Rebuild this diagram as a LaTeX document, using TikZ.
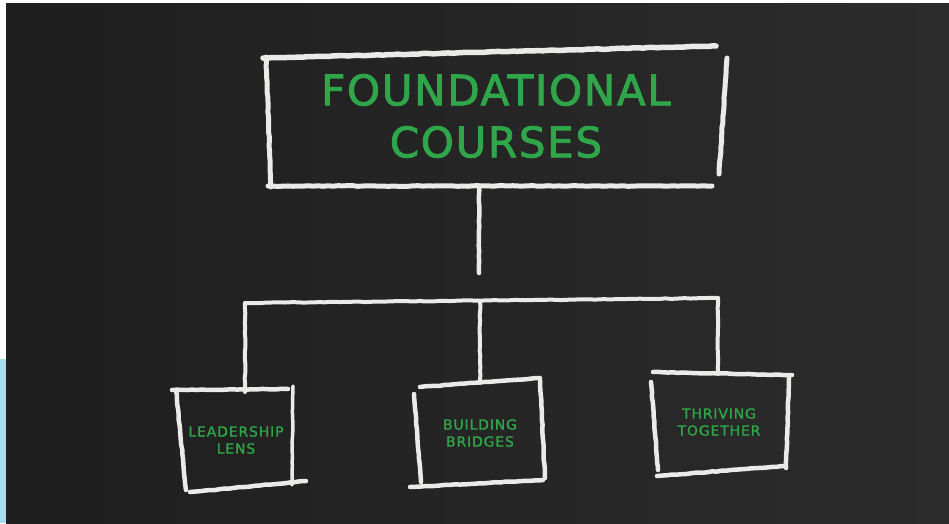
\documentclass[tikz,border=0pt]{standalone}
\usepackage{fontspec}
\usepackage{tikz}
\usetikzlibrary{calc, decorations.pathmorphing}
\newfontfamily\chalkfont[LetterSpace=4, FakeBold=2]{DejaVu Sans}
\newfontfamily\chalksmall[LetterSpace=6, FakeBold=1.2]{DejaVu Sans}
\definecolor{board}{RGB}{30,30,30}
\definecolor{boardlight}{RGB}{44,44,44}
\definecolor{chalk}{RGB}{234,234,230}
\definecolor{chalkgreen}{RGB}{48,166,74}
\definecolor{edgeblue}{RGB}{166,220,238}

\begin{document}
\begin{tikzpicture}[x=1pt, y=-1pt,
    stroke/.style={draw=chalk, line width=4.5pt, line cap=round,
      decorate, decoration={random steps, segment length=5pt, amplitude=0.35pt}},
    boxnode/.style={inner sep=0, outer sep=0, text=chalkgreen, align=center},
    bigtext/.style={font=\chalkfont\fontsize{42}{52}\selectfont},
    smalltext/.style={font=\chalksmall\fontsize{14}{17}\selectfont}]
      \useasboundingbox (0,0) rectangle (949,523);
      \fill [white] (0,0) rectangle (949,523);
      \shade [left color=board, right color=boardlight] (6,3) rectangle (949,523);
      \fill [edgeblue] (0,359) rectangle (6,523);

      % boxes with their texts
      \node [boxnode, bigtext, minimum width=456, minimum height=140] (topbox) at (496,116)
        {FOUNDATIONAL\\COURSES};
      \node [boxnode, smalltext, minimum width=112, minimum height=96] (leadbox) at (236,440)
        {LEADERSHIP\\LENS};
      \node [boxnode, smalltext, minimum width=126, minimum height=100] (buildbox) at (480,433)
        {BUILDING\\BRIDGES};
      \node [boxnode, smalltext, minimum width=136, minimum height=96] (thrivebox) at (719,422)
        {THRIVING\\TOGETHER};

      % chalk outlines
      \draw [stroke, line width=5.5pt] (263,58) -- (716,46);
      \draw [stroke, line width=5pt] (266,57) -- (271,187);
      \draw [stroke, line width=5pt] (727,58) -- (719,174);
      \draw [stroke, line width=5pt] (268,186) -- (712,186);

      \draw [stroke] (172,390) -- (288,389);
      \draw [stroke] (176,390) -- (186,490);
      \draw [stroke, line width=3.5pt] (293,386) -- (292,485);
      \draw [stroke] (190,492) -- (306,481);

      \draw [stroke] (420,387) -- (540,378);
      \draw [stroke] (414,394) -- (421,482);
      \draw [stroke] (540,380) -- (545,478);
      \draw [stroke] (410,487) -- (543,480);

      \draw [stroke] (653,372) -- (792,375);
      \draw [stroke] (651,382) -- (658,470);
      \draw [stroke] (789,378) -- (786,468);
      \draw [stroke] (657,476) -- (785,466);

      % connectors
      \coordinate (stemend) at (479,273);
      \coordinate (barL) at (245,303);
      \coordinate (barM) at (480,301);
      \coordinate (barR) at (718,298);
      \draw [stroke] (stemend |- topbox.south) -- (stemend);
      \draw [stroke, line width=4pt] (barL) -- (barR);
      \draw [stroke, line width=4pt] (barL) -- (barL |- leadbox.north);
      \draw [stroke, line width=4pt] (barM) -- (barM |- buildbox.north);
      \draw [stroke, line width=4pt] (barR) -- (barR |- thrivebox.north);
    \end{tikzpicture}
\end{document}
